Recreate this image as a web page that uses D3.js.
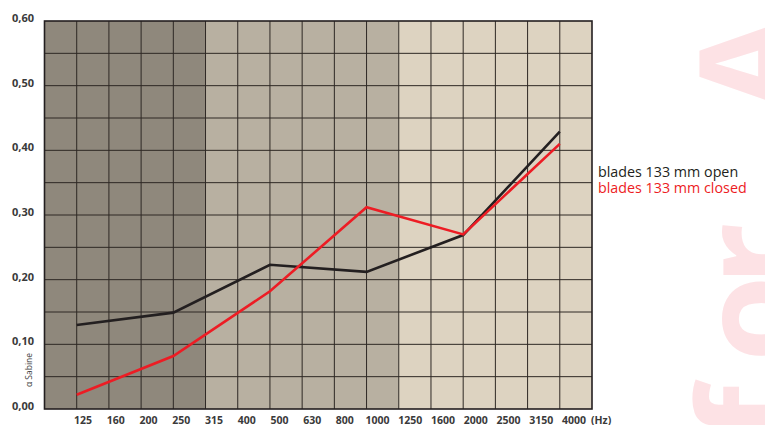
<!DOCTYPE html>
<html>
<head>
<meta charset="utf-8">
<script src="https://cdn.jsdelivr.net/npm/d3@7"></script>
<style>
  body { margin: 0; background: #fff; }
  svg { display: block; font-family: "Open Sans", sans-serif; }
</style>
</head>
<body>
<script>
// frequency bands on the x axis (third octave)
var freqLabels = ["125", "160", "200", "250", "315", "400", "500", "630", "800",
                  "1000", "1250", "1600", "2000", "2500", "3150", "4000"];
// measured points (octave bands)
var pointFreqs = ["125", "250", "500", "1000", "2000", "4000"];
var openValues = [0.13, 0.149, 0.223, 0.212, 0.269, 0.429];
var closedValues = [0.022, 0.082, 0.182, 0.312, 0.270, 0.410];
var yTicks = [0, 0.1, 0.2, 0.3, 0.4, 0.5, 0.6];
var yGrid = [0.05, 0.1, 0.15, 0.2, 0.25, 0.3, 0.35, 0.4, 0.45, 0.5, 0.55];
var legendLabels = ["blades 133 mm open", "blades 133 mm closed"];
// background zones: start / end in column units
var zones = [
  { from: -1, to: 4, color: "#8f887c" },
  { from: 4, to: 10, color: "#b8b0a1" },
  { from: 10, to: 16, color: "#ddd3c1" }
];
// logo letters and where each one starts, bottom to top
var logoLetters = ["f", "o", "r", "A"];
var logoStarts = [440, 362, 286, 112];

function draw() {
    var w = 765, h = 425;
    var left = 44.5, right = 592, top = 21, bottom = 409;

    var svg = d3.select("body").append("svg")
        .attr("width", w)
        .attr("height", h);

    // pink logo in the background, rotated and clipped by the page edge
    var logo = svg.append("text")
        .attr("transform", "translate(800,0) rotate(-90)")
        .attr("font-family", "'Open Sans', sans-serif")
        .attr("font-weight", 700)
        .attr("font-size", 140)
        .attr("fill", "#fde2e5");
    logo.selectAll("tspan")
        .data(logoLetters)
        .enter()
        .append("tspan")
        .attr("x", function(d, i) { return -logoStarts[i]; })
        .attr("y", 0)
        .text(function(d) { return d; });

    // column index scale, one column outside on both sides
    var xScale = d3.scaleLinear()
        .domain([-1, 16])
        .range([left, right]);
    var idx = function(f) { return freqLabels.indexOf(f); };

    var yScale = d3.scaleLinear()
        .domain([0, 0.6])
        .range([bottom, top]);

    svg.selectAll("rect.zone")
        .data(zones)
        .enter()
        .append("rect")
        .attr("class", "zone")
        .attr("x", function(d) { return xScale(d.from); })
        .attr("y", top)
        .attr("width", function(d) { return xScale(d.to) - xScale(d.from); })
        .attr("height", bottom - top)
        .attr("fill", function(d) { return d.color; });

    // grid
    svg.selectAll("line.hgrid")
        .data(yGrid)
        .enter()
        .append("line")
        .attr("x1", left).attr("x2", right)
        .attr("y1", function(d) { return yScale(d); })
        .attr("y2", function(d) { return yScale(d); })
        .attr("stroke", "#2e2824")
        .attr("stroke-width", 1);

    svg.selectAll("line.vgrid")
        .data(freqLabels)
        .enter()
        .append("line")
        .attr("x1", function(d, i) { return xScale(i); })
        .attr("x2", function(d, i) { return xScale(i); })
        .attr("y1", top).attr("y2", bottom)
        .attr("stroke", "#2e2824")
        .attr("stroke-width", 1);

    svg.append("rect")
        .attr("x", left).attr("y", top)
        .attr("width", right - left).attr("height", bottom - top)
        .attr("fill", "none")
        .attr("stroke", "#231f20")
        .attr("stroke-width", 1.6);

    // curves
    var line = d3.line()
        .x(function(d) { return xScale(idx(d.f)); })
        .y(function(d) { return yScale(d.v); });

    var series = [
        { values: openValues, color: "#231f20" },
        { values: closedValues, color: "#ed1c24" }
    ];
    series.forEach(function(s) {
        var pts = pointFreqs.map(function(f, i) { return { f: f, v: s.values[i] }; });
        svg.append("path")
            .datum(pts)
            .attr("d", line)
            .attr("fill", "none")
            .attr("stroke", s.color)
            .attr("stroke-width", 2.6);
    });

    // y axis labels
    svg.selectAll("text.ytick")
        .data(yTicks)
        .enter()
        .append("text")
        .attr("x", 34)
        .attr("y", function(d) { return yScale(d) + 1; })
        .attr("text-anchor", "end")
        .attr("font-size", 11)
        .attr("font-weight", 700)
        .attr("fill", "#3a3a3a")
        .text(function(d) { return d.toFixed(2).replace(".", ","); });

    svg.append("text")
        .attr("transform", "translate(32,370) rotate(-90)")
        .attr("text-anchor", "middle")
        .attr("font-size", 8.5)
        .attr("fill", "#3a3a3a")
        .text("α Sabine");

    // x axis labels sit a bit to the right of the grid lines
    var labelScale = d3.scalePoint()
        .domain(freqLabels)
        .range([83, 574]);
    svg.selectAll("text.xtick")
        .data(freqLabels)
        .enter()
        .append("text")
        .attr("x", function(d) { return labelScale(d); })
        .attr("y", 424)
        .attr("text-anchor", "middle")
        .attr("font-size", 10.5)
        .attr("font-weight", 700)
        .attr("fill", "#3a3a3a")
        .text(function(d) { return d; });
    svg.append("text")
        .attr("x", 591).attr("y", 424)
        .attr("font-size", 10.5)
        .attr("font-weight", 700)
        .attr("fill", "#3a3a3a")
        .text("(Hz)");

    // legend
    svg.selectAll("text.legend")
        .data(legendLabels)
        .enter()
        .append("text")
        .attr("x", 598)
        .attr("y", function(d, i) { return 177 + i * 15.5; })
        .attr("font-size", 14.3)
        .attr("fill", function(d, i) { return series[i].color; })
        .text(function(d) { return d; });
}
window.onload = draw;
</script>
</body>
</html>
